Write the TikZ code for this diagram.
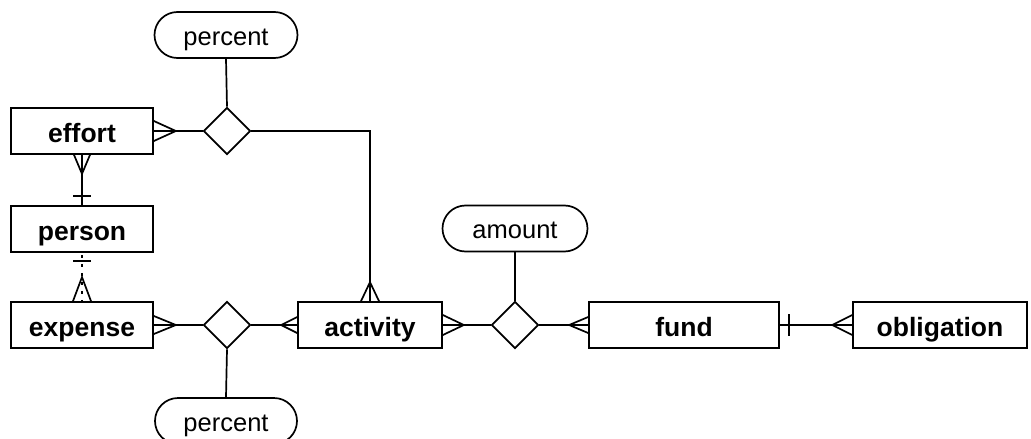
\documentclass[tikz,border=0pt]{standalone}
\usepackage{fontspec}
\setmainfont{Liberation Sans}
\usetikzlibrary{shapes.geometric,shapes.misc,calc}
\begin{document}
\begin{tikzpicture}[x=1pt,y=-1pt,
  line/.style={line width=1.7pt,line cap=butt,line join=miter},
  entity/.style={draw,line width=1.7pt,rectangle,minimum height=46pt,inner sep=0pt,
    text height=22pt,text depth=0pt,font=\fontsize{26.5}{30}\selectfont\bfseries},
  relation/.style={draw,line width=1.7pt,diamond,aspect=1,minimum size=47pt,inner sep=0pt},
  attr/.style={draw,line width=1.7pt,rounded rectangle,minimum height=46pt,inner sep=0pt,
    text height=20pt,text depth=0pt,font=\fontsize{25.5}{29}\selectfont}]
\useasboundingbox (0,0) rectangle (1031,439);
\clip (0,0) rectangle (1031,439);

% entities
\node[entity,minimum width=142pt] (effort) at (82,131) {effort};
\node[entity,minimum width=142pt] (person) at (82,229) {person};
\node[entity,minimum width=142pt] (expense) at (82,325) {expense};
\node[entity,minimum width=144pt] (activity) at (370,325) {activity};
\node[entity,minimum width=190pt] (fund) at (684,325) {fund};
\node[entity,minimum width=174pt] (obligation) at (940,325) {obligation};

% relationships
\node[relation] (r1) at (227,131) {};
\node[relation] (r2) at (227,325) {};
\node[relation] (r3) at (515,325) {};

% attributes
\node[attr,minimum width=143pt] (pctA) at (226,35) {percent};
\node[attr,minimum width=145pt] (amount) at (515,228.5) {amount};
\node[attr,minimum width=142pt] (pctB) at (226,421) {percent};

% connectors
\draw[line] (effort.east) -- (r1.west);
\draw[line] (r1.north) -- (pctA.south);
\draw[line] (r1.east) -| (activity.north);
\draw[line] (effort.south) -- (person.north);
\draw[line,dash pattern=on 3pt off 6pt,dash phase=-2pt] (person.south) -- (expense.north);
\draw[line] (expense.east) -- (r2.west);
\draw[line] (r2.east) -- (activity.west);
\draw[line] (r2.south) -- (pctB.north);
\draw[line] (activity.east) -- (r3.west);
\draw[line] (r3.north) -- (amount.south);
\draw[line] (r3.east) -- (fund.west);
\draw[line] (fund.east) -- (obligation.west);

% crow's feet (many ends)
\draw[line] ($(effort.east)+(0,-10)$) -- ($(effort.east)+(22,0)$) -- ($(effort.east)+(0,10)$);
\draw[line] ($(effort.south)+(-8,0)$) -- ($(effort.south)+(0,19)$) -- ($(effort.south)+(8,0)$);
\draw[line] ($(expense.north)+(-9,0)$) -- ($(expense.north)+(0,-24)$) -- ($(expense.north)+(9,0)$);
\draw[line] ($(expense.east)+(0,-9)$) -- ($(expense.east)+(22,0)$) -- ($(expense.east)+(0,9)$);
\draw[line] ($(activity.west)+(0,-8)$) -- ($(activity.west)+(-16,0)$) -- ($(activity.west)+(0,8)$);
\draw[line] ($(activity.north)+(-9,0)$) -- ($(activity.north)+(0,-19)$) -- ($(activity.north)+(9,0)$);
\draw[line] ($(activity.east)+(0,-10)$) -- ($(activity.east)+(21,0)$) -- ($(activity.east)+(0,10)$);
\draw[line] ($(fund.west)+(0,-8)$) -- ($(fund.west)+(-19,0)$) -- ($(fund.west)+(0,8)$);
\draw[line] ($(obligation.west)+(0,-10)$) -- ($(obligation.west)+(-20,0)$) -- ($(obligation.west)+(0,10)$);

% bars (exactly one)
\draw[line] ($(person.north)+(-9,-9)$) -- ($(person.north)+(9,-9)$);
\draw[line] ($(person.south)+(-9,8)$) -- ($(person.south)+(9,8)$);
\draw[line] ($(fund.east)+(9,-11)$) -- ($(fund.east)+(9,11)$);
\end{tikzpicture}
\end{document}
